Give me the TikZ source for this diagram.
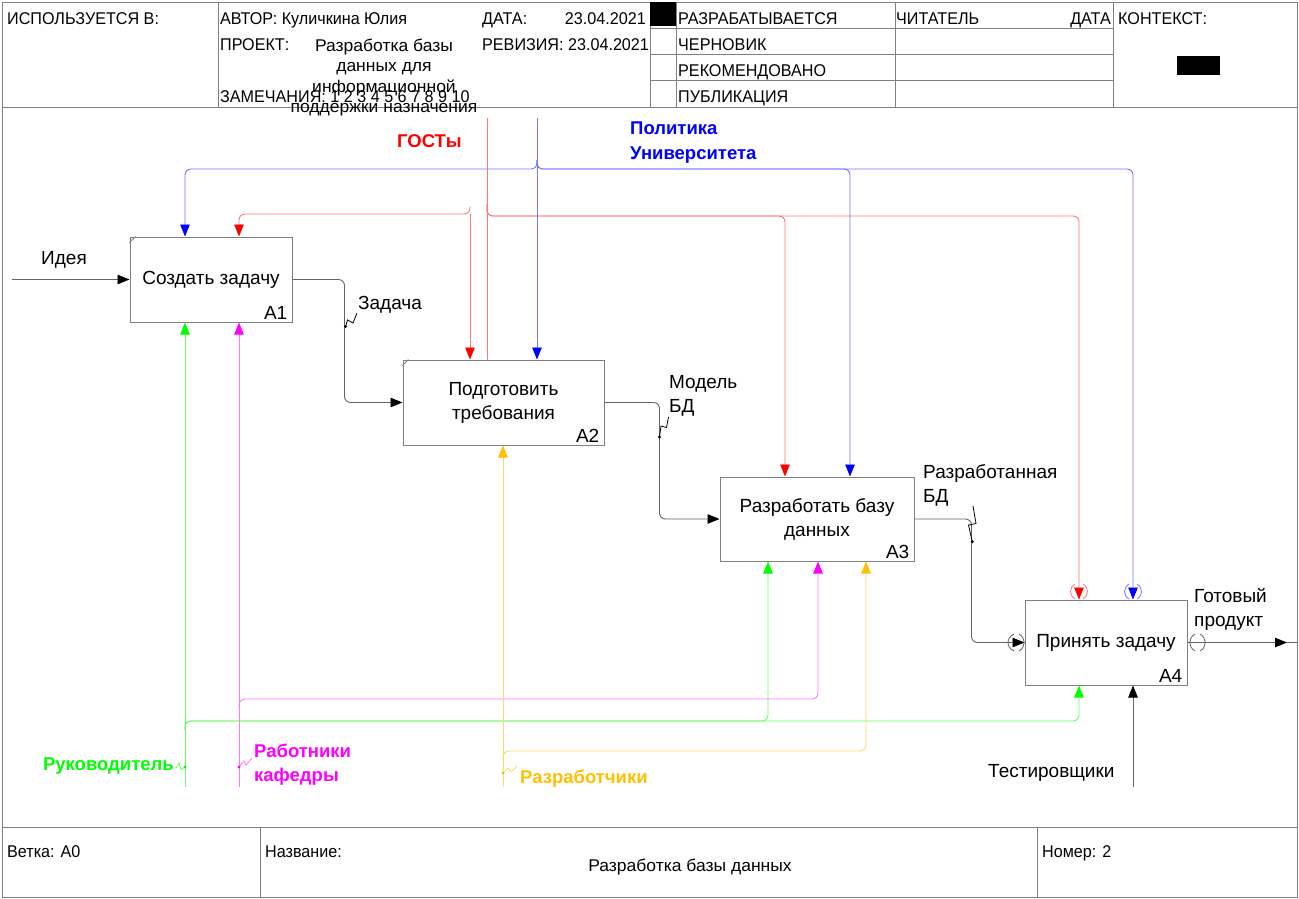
\documentclass[tikz,border=0pt]{standalone}
\usepackage{fontspec}
\setmainfont{Liberation Sans}
\newfontfamily\hdfont[FakeStretch=0.95]{Liberation Sans}
\newfontfamily\prfont[FakeStretch=1.03]{Liberation Sans}
\usetikzlibrary{arrows.meta,calc}
\definecolor{cR}{RGB}{255,0,0}
\definecolor{cB}{RGB}{0,0,255}
\definecolor{cG}{RGB}{0,255,0}
\definecolor{cM}{RGB}{255,0,255}
\definecolor{cY}{RGB}{255,192,0}
\definecolor{lR}{RGB}{255,120,120}
\definecolor{lB}{RGB}{120,120,255}
\definecolor{lG}{RGB}{110,250,110}
\definecolor{lM}{RGB}{255,120,255}
\definecolor{lY}{RGB}{255,218,110}
\definecolor{lK}{RGB}{100,100,100}
\definecolor{fr}{RGB}{128,128,128}
\begin{document}
\begin{tikzpicture}[x=1pt,y=-1pt,
  frameline/.style={draw=fr,line width=1pt},
  proc/.style={draw=fr,line width=1pt,inner sep=0pt,align=center,font=\fontsize{19}{24}\selectfont},
  lbl/.style={inner sep=0pt,anchor=base west,font=\fontsize{19}{24}\selectfont},
  blbl/.style={inner sep=0pt,anchor=base west,font=\fontsize{18.5}{24}\selectfont\bfseries},
  hd/.style={inner sep=0pt,anchor=base west,font=\hdfont\fontsize{17}{20}\selectfont},
  prj/.style={inner sep=0pt,anchor=base,font=\prfont\fontsize{17}{20}\selectfont},
  wire/.style={draw=#1,line width=0.9pt,rounded corners=6pt},
  endtri/.style={-{Triangle[length=12pt,width=9.5pt,color=#1]}},
  sq/.style={draw=#1,line width=0.8pt},
  tun/.style={draw=#1,line width=0.8pt},
]
\useasboundingbox (0,0) rectangle (1299,898);
\fill[white] (0,0) rectangle (1299,898);
% frame
\draw[frameline] (2,2) rectangle (1297,897);
\draw[frameline] (2,107) -- (1297,107);
\draw[frameline] (2,827) -- (1297,827);
\foreach \x in {218,650,676,895,1113} \draw[frameline] (\x,2) -- (\x,107);
\foreach \y in {28,54,80} \draw[frameline] (650,\y) -- (1113,\y);
\fill[black] (650,2) rectangle (676,26);
\fill[black] (1177,56) rectangle (1220,75);
\draw[frameline] (260,827) -- (260,897);
\draw[frameline] (1037,827) -- (1037,897);
% header text
\node[hd] (h1) at (7,24) {ИСПОЛЬЗУЕТСЯ В:};
\node[hd] (h2) at (220,24) {АВТОР: Куличкина Юлия};
\node[hd] (h3) at (482,24) {ДАТА:};
\node[hd,anchor=base east] (h4) at (646,24) {23.04.2021};
\node[hd] (h5) at (220,50) {ПРОЕКТ:};
\node[prj] (h6a) at (384,51) {Разработка базы};
\node[prj] (h6b) at (384,71.5) {данных для};
\node[prj] (h6c) at (384,92) {информационной};
\node[prj] (h6d) at (384,112) {поддержки назначения};
\node[hd] (h7) at (482,50) {РЕВИЗИЯ: 23.04.2021};
\node[hd] (h8) at (220,102) {ЗАМЕЧАНИЯ: 1 2 3 4 5 6 7 8 9 10};
\node[hd] (h9) at (678,24) {РАЗРАБАТЫВАЕТСЯ};
\node[hd] (h10) at (678,50) {ЧЕРНОВИК};
\node[hd] (h11) at (678,76) {РЕКОМЕНДОВАНО};
\node[hd] (h12) at (678,102) {ПУБЛИКАЦИЯ};
\node[hd] (h13) at (896,24) {ЧИТАТЕЛЬ};
\node[hd,anchor=base east] (h14) at (1111,24) {ДАТА};
\node[hd] (h15) at (1118,24) {КОНТЕКСТ:};
% footer text
\node[hd] (f1) at (7,857) {Ветка: A0};
\node[hd] (f2) at (265,857) {Название:};
\node[prj] (f3) at (690,871) {Разработка базы данных};
\node[hd] (f4) at (1042,857) {Номер: 2};
% boxes
\node[proc,minimum width=162pt,minimum height=85pt] (a1) at (211,279.5) {Создать задачу};
\node[proc,minimum width=201pt,minimum height=85pt] (a2) at (503.5,402.5) {Подготовить\\требования};
\node[proc,minimum width=194pt,minimum height=84pt] (a3) at (817,519) {Разработать базу\\данных};
\node[proc,minimum width=162pt,minimum height=85pt] (a4) at (1106,642.5) {Принять задачу};
\node[lbl,anchor=base east] (n1) at ($(a1.south east)+(-5,-3)$) {A1};
\node[lbl,anchor=base east] (n2) at ($(a2.south east)+(-5,-3)$) {A2};
\node[lbl,anchor=base east] (n3) at ($(a3.south east)+(-5,-3)$) {A3};
\node[lbl,anchor=base east] (n4) at ($(a4.south east)+(-5,-3)$) {A4};
\draw[fr,line width=0.8pt] ($(a1.north west)+(0,6)$) -- ++(6,-6);
\draw[fr,line width=0.8pt] ($(a2.north west)+(0,6)$) -- ++(6,-6);
% inputs / outputs
\coordinate (ideaS) at (12,279.5);
\draw[wire=lK,endtri=black] (ideaS) -- (a1.west);
\draw[wire=lK,endtri=black] (a1.east) -| ($(a2.west)+(-58,0)$) -- (a2.west);
\draw[wire=lK,endtri=black] (a2.east) -| ($(a3.west)+(-60,0)$) -- (a3.west);
\draw[wire=lK,endtri=black] (a3.east) -| ($(a4.west)+(-53,0)$) -- (a4.west);
\coordinate (outE) at (1287,642.5);
\coordinate (outB) at (1297,642.5);
\draw[wire=lK,endtri=black] (a4.east) -- (outE);
\draw[wire=lK] (outE) -- (outB);
% controls red
\coordinate (rS) at (487,118);
\coordinate (rJ) at (487,204);
\coordinate (rL) at (470,206);
\coordinate (rD) at (470,214);
\draw[wire=lR] (rS) -- (a2.north -| rS);
\draw[wire=lR,endtri=cR] (rJ) |- (785,216) -- (a3.north -| 785,0);
\draw[wire=lR,endtri=cR] (rJ) |- (1079,216) -- (a4.north -| 1079,0);
\draw[wire=lR,endtri=cR] (rL) |- (239,214) -- (a1.north -| 239,0);
\draw[wire=lR,endtri=cR] (rD) -- (a2.north -| rD);
% controls blue
\coordinate (bS) at (537,118);
\coordinate (bJ) at (537,160);
\draw[wire=lB,endtri=cB] (bS) -- (a2.north -| bS);
\draw[wire=lB,endtri=cB] (bJ) |- (185,169) -- (a1.north -| 185,0);
\draw[wire=lB,endtri=cB] (bJ) |- (850,169) -- (a3.north -| 850,0);
\draw[wire=lB,endtri=cB] (bJ) |- (1133,169) -- (a4.north -| 1133,0);
% mechanisms
\coordinate (gS) at (185,787);
\coordinate (gJ) at (185,730);
\draw[wire=lG,endtri=cG] (gS) -- (a1.south -| gS);
\draw[wire=lG,endtri=cG] (gJ) |- (768,721) -- (a3.south -| 768,0);
\draw[wire=lG,endtri=cG] (gJ) |- (1079,721) -- (a4.south -| 1079,0);
\coordinate (mS) at (239,787);
\coordinate (mJ) at (239,708);
\draw[wire=lM,endtri=cM] (mS) -- (a1.south -| mS);
\draw[wire=lM,endtri=cM] (mJ) |- (818,699) -- (a3.south -| 818,0);
\coordinate (yS) at (503,787);
\coordinate (yJ) at (503,760);
\draw[wire=lY,endtri=cY] (yS) -- (a2.south -| yS);
\draw[wire=lY,endtri=cY] (yJ) |- (866,751) -- (a3.south -| 866,0);
\coordinate (kS) at (1133,787);
\draw[wire=lK,endtri=black] (kS) -- (a4.south -| kS);
% tunnels
\draw[tun=lR] (1075,584) .. controls (1069,588) and (1069,595) .. (1075,599);
\draw[tun=lR] (1083,584) .. controls (1089,588) and (1089,595) .. (1083,599);
\draw[tun=lB] (1129,584) .. controls (1123,588) and (1123,595) .. (1129,599);
\draw[tun=lB] (1137,584) .. controls (1143,588) and (1143,595) .. (1137,599);
\draw[tun=lK] (1014,634) .. controls (1006,638) and (1006,647) .. (1014,651);
\draw[tun=lK] (1019,634) .. controls (1026,638) and (1026,647) .. (1019,651);
\draw[tun=lK] (1195,634) .. controls (1188,638) and (1188,647) .. (1195,651);
\draw[tun=lK] (1200,634) .. controls (1207,638) and (1207,647) .. (1200,651);
% squiggles
\draw[sq=black] (345.5,326.5) -- (347.5,320) -- (353,323) -- (357,313);
\fill[black] (345.5,326.5) circle (1.6pt);
\draw[sq=black] (659.5,437) -- (661,426) -- (666.5,427.5) -- (668.5,417);
\fill[black] (659.5,437) circle (1.6pt);
\draw[sq=black] (972.3,541.7) -- (968.5,525) -- (976,523.5) -- (973,506);
\fill[black] (972.3,541.7) circle (1.6pt);
\draw[sq=lG] (176,768) -- (179,763) -- (181,770) -- (185,767);
\fill[cG] (185,767) circle (1.6pt);
\draw[sq=lM] (239,767) -- (244,761) -- (246,765) -- (252,758);
\fill[cM] (239,767) circle (1.6pt);
\draw[sq=lY] (503,773) -- (508,768) -- (511,772) -- (517,766);
\fill[cY] (503,773) circle (1.6pt);
% labels
\node[lbl] (lidea) at (41,264) {Идея};
\node[lbl] (lzad) at (358,309) {Задача};
\node[lbl] (lmod1) at (669,388) {Модель};
\node[lbl] (lmod2) at (669,412) {БД};
\node[lbl] (lrbd1) at (923,478) {Разработанная};
\node[lbl] (lrbd2) at (923,502) {БД};
\node[lbl] (lgot1) at (1194,602) {Готовый};
\node[lbl] (lgot2) at (1194,626) {продукт};
\node[blbl,text=cR] (lgost) at (397,147) {ГОСТы};
\node[blbl,text=cB] (lpol1) at (630,134) {Политика};
\node[blbl,text=cB] (lpol2) at (630,159) {Университета};
\node[blbl,text=cG,anchor=base east] (lruk) at (174,770) {Руководитель};
\node[blbl,text=cM] (lrab1) at (254,757) {Работники};
\node[blbl,text=cM] (lrab2) at (254,781) {кафедры};
\node[blbl,text=cY] (lrazr) at (520,783) {Разработчики};
\node[lbl] (ltest) at (988,777) {Тестировщики};
\end{tikzpicture}
\end{document}
